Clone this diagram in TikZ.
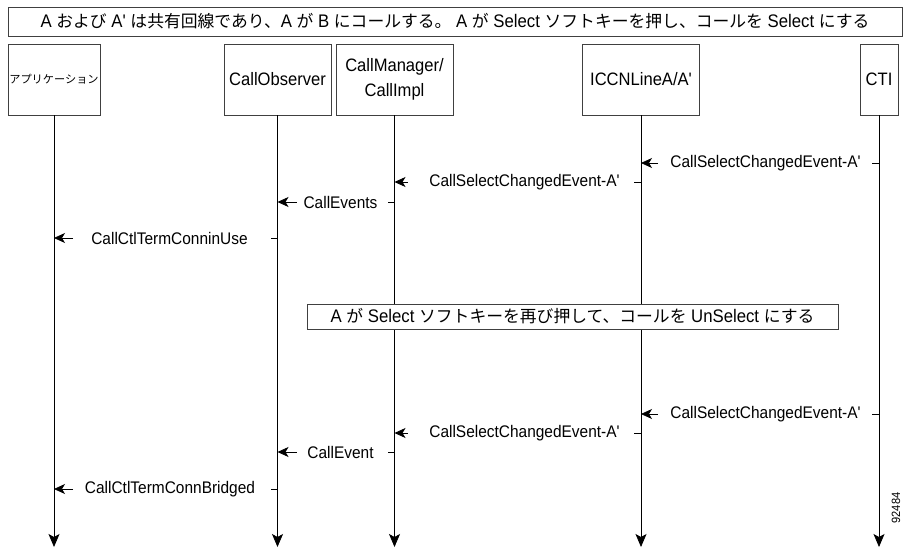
\documentclass[tikz,border=0pt]{standalone}
\usepackage{fontspec}
\setmainfont{Liberation Sans}
\newfontfamily\hv{Liberation Sans}[FakeStretch=0.92]
\newfontfamily\jp{Noto Sans CJK JP}
\usetikzlibrary{arrows.meta,calc}

\tikzset{
  actor/.style={draw=black!75, line width=0.7pt, minimum height=71pt, inner sep=0pt, align=center, font=\hv\fontsize{18}{25}\selectfont},
  lifeline/.style={line width=0.8pt, -{Stealth[length=13pt,width=11pt,inset=3pt]}},
  msg/.style={inner sep=0pt, font=\hv\fontsize{16.8}{18}\selectfont},
  callarrow/.style={line width=0.8pt, -{Stealth[length=11pt,width=10pt,inset=3pt]}},
  tick/.style={line width=0.8pt},
  banner/.style={draw=black!75, fill=white, line width=0.7pt, inner sep=0pt, font=\hv\fontsize{18.2}{19}\selectfont},
}
\newcommand{\ja}[1]{{\jp\fontsize{16.8}{19}\selectfont #1}}

\begin{document}
\begin{tikzpicture}[x=1pt,y=-1pt]
\useasboundingbox (0,0) rectangle (904,548);
% header
\node[banner, minimum width=894pt, minimum height=29pt] (title) at (455,21.5) {A \ja{および} A' \ja{は共有回線であり、}A \ja{が} B \ja{にコールする。} A \ja{が} Select \ja{ソフトキーを押し、コールを} Select \ja{にする}};
% objects
\node[actor, minimum width=92pt, font=\jp\fontsize{11.2}{13}\selectfont] (app) at (54,79.5) {アプリケーション};
\node[actor, minimum width=107pt] (obs) at (277.5,79.5) {CallObserver};
\node[actor, minimum width=117pt] (mgr) at (394.5,79.5) {CallManager/\\CallImpl};
\node[actor, minimum width=117pt] (iccn) at (641,79.5) {ICCNLineA/A'};
\node[actor, minimum width=38pt] (cti) at (879,79.5) {CTI};
\coordinate (bottom) at (0,547);
\foreach \p in {app,obs,mgr,iccn,cti}
  \draw[lifeline] (\p.south) -- (\p.south |- bottom);
% select
\node[msg] (m1) at (765.5,163) {CallSelectChangedEvent-A'};
\draw[tick] (cti.south |- m1) -- ++(-7,0);
\draw[callarrow] ($(iccn.south |- m1)+(17,0)$) -- (iccn.south |- m1);
\node[msg] (m2) at (524.5,182) {CallSelectChangedEvent-A'};
\draw[tick] (iccn.south |- m2) -- ++(-7,0);
\draw[callarrow] ($(mgr.south |- m2)+(13,0)$) -- (mgr.south |- m2);
\node[msg] (m3) at (340.5,202) {CallEvents};
\draw[tick] (mgr.south |- m3) -- ++(-7,0);
\draw[callarrow] ($(obs.south |- m3)+(19,0)$) -- (obs.south |- m3);
\node[msg] (m4) at (169.5,238) {CallCtlTermConninUse};
\draw[tick] (obs.south |- m4) -- ++(-7,0);
\draw[callarrow] ($(app.south |- m4)+(19,0)$) -- (app.south |- m4);
% unselect
\node[banner, minimum width=531pt, minimum height=25pt] (note) at (572.5,316.5) {A \ja{が} Select \ja{ソフトキーを再び押して、コールを} UnSelect \ja{にする}};
\node[msg] (m5) at (765.5,414) {CallSelectChangedEvent-A'};
\draw[tick] (cti.south |- m5) -- ++(-7,0);
\draw[callarrow] ($(iccn.south |- m5)+(17,0)$) -- (iccn.south |- m5);
\node[msg] (m6) at (524.5,433) {CallSelectChangedEvent-A'};
\draw[tick] (iccn.south |- m6) -- ++(-7,0);
\draw[callarrow] ($(mgr.south |- m6)+(13,0)$) -- (mgr.south |- m6);
\node[msg] (m7) at (340.5,452) {CallEvent};
\draw[tick] (mgr.south |- m7) -- ++(-7,0);
\draw[callarrow] ($(obs.south |- m7)+(19,0)$) -- (obs.south |- m7);
\node[msg] (m8) at (170,489) {CallCtlTermConnBridged};
\draw[tick] (obs.south |- m8) -- ++(-7,0);
\draw[callarrow] ($(app.south |- m8)+(19,0)$) -- (app.south |- m8);
\node[rotate=90, inner sep=0pt, font=\hv\fontsize{12}{13}\selectfont] (figid) at (896,508) {92484};
\end{tikzpicture}
\end{document}
